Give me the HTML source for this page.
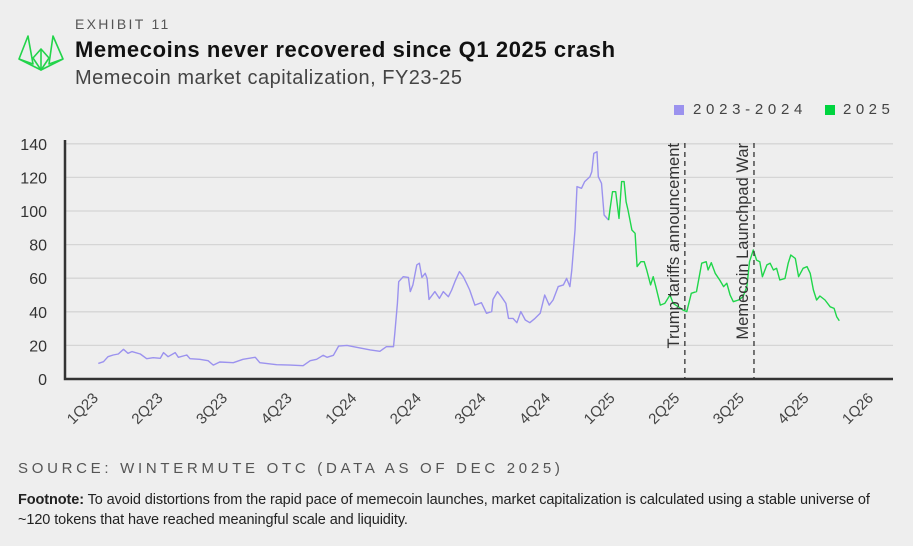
<!DOCTYPE html>
<html><head><meta charset="utf-8"><style>
body{margin:0;background:#eeeeee;font-family:"Liberation Sans",sans-serif;}
#root{position:relative;width:913px;height:546px;overflow:hidden;background:#eeeeee;}
.t{position:absolute;white-space:nowrap;}
</style></head><body>
<div id="root">
<svg class="t" style="left:0;top:0" width="80" height="80">
<g fill="none" stroke="#22d44a" stroke-width="1.6" stroke-linejoin="round">
<polygon points="28,36 19,59 33,64"/><polygon points="53,36 63,59 49,64"/>
<polygon points="41,49 33,58 41,70 49,58"/>
<polyline points="19,59 41,70 63,59"/><line x1="41" y1="49" x2="41" y2="70"/>
</g></svg>
<div class="t" style="left:75px;top:16px;font-size:14px;letter-spacing:2.3px;color:#555">EXHIBIT 11</div>
<div class="t" style="left:75px;top:37px;font-size:22px;font-weight:bold;color:#111;letter-spacing:0.6px">Memecoins never recovered since Q1 2025 crash</div>
<div class="t" style="left:75px;top:67px;font-size:20px;color:#444;letter-spacing:0.5px">Memecoin market capitalization, FY23-25</div>
<div class="t" style="left:674px;top:105px;width:10px;height:10px;background:#9b92ee"></div>
<div class="t" style="left:693px;top:101px;font-size:15px;letter-spacing:4.7px;color:#444">2023-2024</div>
<div class="t" style="left:825px;top:105px;width:10px;height:10px;background:#00d43f"></div>
<div class="t" style="left:843px;top:101px;font-size:15px;letter-spacing:4.5px;color:#444">2025</div>
<svg id="chart" class="t" style="left:0;top:0" width="913" height="546"></svg>
<div class="t" style="left:18px;top:460px;font-size:15px;letter-spacing:3.7px;color:#555">SOURCE: WINTERMUTE OTC (DATA AS OF DEC 2025)</div>
<div class="t" style="left:18px;top:490px;font-size:14.5px;color:#222;line-height:20px;letter-spacing:-0.1px"><b>Footnote:</b> To avoid distortions from the rapid pace of memecoin launches, market capitalization is calculated using a stable universe of<br>~120 tokens that have reached meaningful scale and liquidity.</div>
</div>
<script>
const yTicks=[0,20,40,60,80,100,120,140];
const xLabels=["1Q23","2Q23","3Q23","4Q23","1Q24","2Q24","3Q24","4Q24","1Q25","2Q25","3Q25","4Q25","1Q26"];
const t1=[0.02,0.10,0.17,0.25,0.33,0.41,0.48,0.54,0.67,0.77,0.87,0.98,1.03,1.10,1.21,1.26,1.39,1.44,1.59,1.72,1.80,1.90,2.11,2.26,2.45,2.52,2.78,2.99,3.19,3.30,3.40,3.50,3.56,3.66,3.74,3.87,3.97,4.07,4.23,4.38,4.48,4.59,4.61,4.65,4.67,4.74,4.82,4.85,4.89,4.95,4.99,5.03,5.08,5.11,5.14,5.23,5.30,5.36,5.44,5.49,5.54,5.61,5.67,5.72,5.77,5.85,5.95,6.03,6.11,6.13,6.20,6.26,6.33,6.37,6.44,6.50,6.56,6.63,6.70,6.78,6.86,6.93,7.00,7.06,7.14,7.22,7.27,7.32,7.35,7.40,7.43,7.50,7.55,7.63,7.66,7.69,7.74,7.76,7.81,7.85,7.92];
const v1=[9.3,10.3,13.3,14.3,14.9,17.7,15.3,16.3,14.9,12.1,12.7,12.3,15.7,13.3,15.7,12.9,14.3,12.1,11.7,10.9,8.3,10.1,9.7,11.7,12.9,9.7,8.5,8.3,7.9,10.9,11.7,14.1,12.9,14.1,19.6,20.0,19.2,18.5,17.3,16.5,19.2,19.2,27.2,45,57.9,60.9,60.5,52,56,67.9,68.9,60.5,62.9,59.9,47.4,52,48,52,49,53,57.9,63.9,60.9,57,53,44,45.4,39.1,40.1,47.4,52,49,45,36.1,36.1,33.5,40.1,35.1,33.5,36.1,39.1,50,44,47,55,56,59.9,55,64.9,88.7,114.5,113.5,117.5,120.4,123.4,134.3,135.3,120.4,116.5,97.6,94.6];
const t2=[7.92,7.94,7.98,8.03,8.08,8.12,8.16,8.19,8.22,8.28,8.33,8.36,8.42,8.47,8.51,8.57,8.61,8.65,8.72,8.79,8.87,8.92,9.00,9.07,9.13,9.20,9.28,9.36,9.43,9.46,9.51,9.57,9.64,9.70,9.75,9.80,9.85,9.93,10.00,10.06,10.10,10.16,10.21,10.26,10.30,10.37,10.42,10.47,10.52,10.57,10.65,10.70,10.74,10.81,10.86,10.93,10.99,11.04,11.09,11.14,11.19,11.27,11.35,11.41,11.45,11.49];
const v2=[94.6,100.6,111.5,111.5,95.6,117.5,117.5,105.5,100.6,88.7,86.7,66.9,69.8,69.8,64.9,56,60.9,55,44,45,50,45,43,41.1,40.1,51,52,68.9,69.8,64.9,69.2,62.9,58.9,55,57,50,46,47,49,55,69.8,76.8,70.8,69.8,60.9,67.9,68.9,64.9,65.9,58.9,59.9,68.9,73.8,71.8,60.9,65.9,66.9,62.9,53,47,49.4,47,43,42,37.1,34.7];
const events=["Trump tariffs announcement","Memecoin Launchpad War"];
const eventT=[9.10,10.17];

const NS="http://www.w3.org/2000/svg";
const svg=document.getElementById("chart");
const X0=65,X1=893,Y0=379;
const xs=q=>97+q*64.6;
const ys=v=>Y0-v*1.68;
function mk(tag,attrs,parent){const e=document.createElementNS(NS,tag);for(const k in attrs)e.setAttribute(k,attrs[k]);(parent||svg).appendChild(e);return e;}
yTicks.forEach(v=>{
  if(v>0){const g=mk("line",{x1:X0,x2:X1,y1:ys(v),y2:ys(v),stroke:"#d5d5d5","stroke-width":1.3});
  
  }
  const t=mk("text",{x:47,y:ys(v)+6,"text-anchor":"end","font-size":16,fill:"#333","font-family":"Liberation Sans, sans-serif"});
  t.textContent=v;
  
  
});
xLabels.forEach((l,i)=>{
  const x=xs(i);
  const t=mk("text",{x:0,y:0,"text-anchor":"end","font-size":15,fill:"#444","font-family":"Liberation Sans, sans-serif",transform:`translate(${x+2},${Y0+20}) rotate(-45)`});
  t.textContent=l;
  
  
});
function line(ts,vs,col,name){
  const d=ts.map((t,i)=>(i?"L":"M")+xs(t).toFixed(1)+","+ys(vs[i]).toFixed(1)).join("");
  const p=mk("path",{d:d,fill:"none",stroke:col,"stroke-width":1.4,"stroke-linejoin":"round"});
  
  
}
line(t1,v1,"#9b92ee","series-2023-2024");
line(t2,v2,"#1fd64a","series-2025");
events.forEach((ev,i)=>{
  const x=xs(eventT[i]);
  const l=mk("line",{x1:x,x2:x,y1:143,y2:Y0,stroke:"#333","stroke-width":1.3,"stroke-dasharray":"5,4"});
  
  
  const t=mk("text",{x:0,y:0,"text-anchor":"end","font-size":16.5,fill:"#333","font-family":"Liberation Sans, sans-serif",transform:`translate(${x-6},143) rotate(-90)`});
  t.textContent=ev;
  
  
});
const ax=mk("path",{d:`M${X0},140 L${X0},${Y0} L${X1},${Y0}`,fill:"none",stroke:"#333","stroke-width":2.5});


</script>
</body></html>
